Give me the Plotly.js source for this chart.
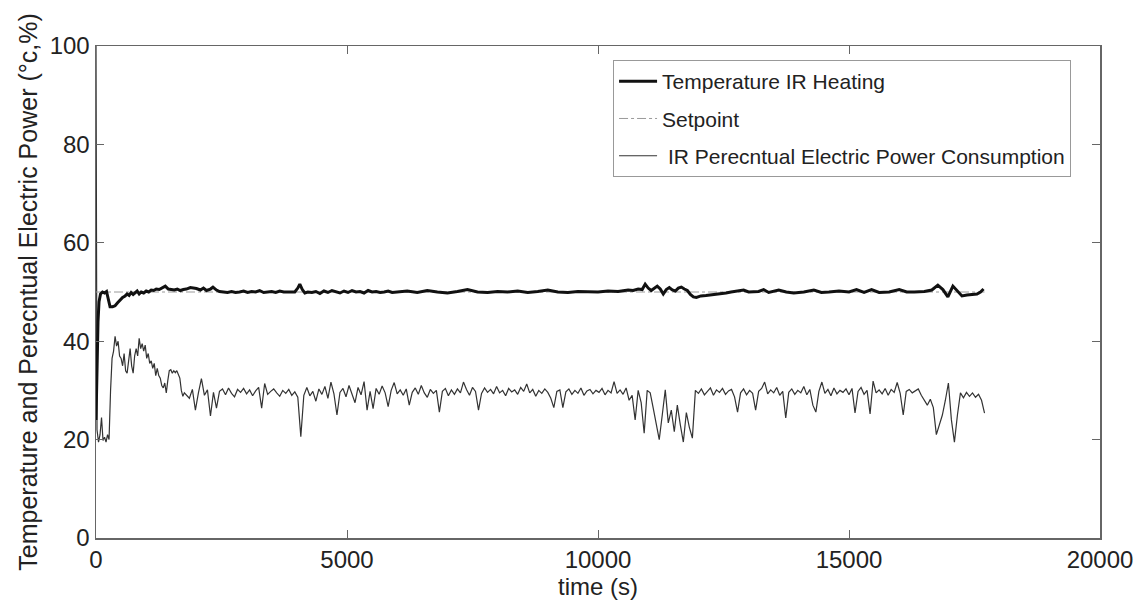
<!DOCTYPE html>
<html>
<head>
<meta charset="utf-8">
<script src="https://cdn.plot.ly/plotly-3.0.1.min.js"></script>
<style>html,body{margin:0;padding:0;background:#fff;}#chart{width:1138px;height:610px;}</style>
</head>
<body>
<div id="chart"></div>
<script>
// ---- Temperature IR Heating (time s, value °C) ----
const tempTime = [0,20,40,60,90,130,170,210,250,280,330,380,430,480,530,580,620,660,700,740,780,820,860,900,950,1000,1050,1100,1150,1200,1260,1320,1380,1440,1500,1560,1620,1680,1740,1800,1880,1940,2000,2080,2140,2200,2280,2330,2400,2460,2540,2620,2700,2780,2860,2940,3020,3100,3180,3260,3340,3420,3500,3580,3660,3740,3820,3900,3960,4020,4060,4110,4160,4220,4300,4380,4460,4540,4620,4700,4780,4860,4940,5020,5100,5180,5260,5340,5420,5500,5580,5660,5740,5820,5900,6000,6200,6400,6600,6800,7000,7200,7400,7600,7800,8000,8200,8400,8600,8800,9000,9200,9400,9600,9800,10000,10200,10400,10600,10700,10800,10880,10940,11000,11060,11120,11180,11240,11300,11360,11420,11480,11540,11600,11660,11720,11780,11840,11900,11960,12050,12150,12250,12350,12450,12550,12650,12750,12900,13000,13200,13300,13400,13600,13750,13900,14100,14300,14450,14600,14800,15000,15150,15300,15450,15600,15800,16000,16150,16300,16500,16650,16770,16870,16970,17070,17170,17250,17350,17450,17550,17620,17680];
const tempValue = [24,35,44,48,49.6,50,49.8,50.1,48.5,47,47,47.2,47.8,48.4,48.9,49.2,49.6,49.3,49.9,49.5,49.8,50.2,49.6,50.0,49.8,50.2,50.0,50.4,50.3,50.6,50.5,50.9,51.2,50.6,50.5,50.4,50.6,50.3,50.5,50.6,50.9,50.8,50.7,50.4,50.8,50.3,50.6,51.0,50.4,50.1,50.0,49.9,50.1,49.9,50.0,50.2,49.9,50.1,50.0,50.3,49.9,50.0,50.1,49.9,50.2,50.0,50.0,50.1,50.0,50.8,51.6,50.5,49.8,50.0,49.9,50.1,49.7,50.2,49.9,50.3,50.0,49.8,50.2,49.9,50.3,50.0,50.1,49.8,50.3,50.0,50.1,49.9,50.0,50.2,49.9,50.0,50.2,49.9,50.3,50.0,49.8,50.1,50.5,50.0,49.9,50.1,50.0,50.2,49.9,50.1,50.4,50.0,49.9,50.1,50.0,50.0,50.2,50.1,50.4,50.3,50.6,50.5,51.6,50.8,50.3,50.8,51.2,50.6,49.6,50.5,50.9,50.4,50.2,50.8,51.0,50.6,50.3,49.5,49.0,48.9,49.2,49.3,49.4,49.5,49.6,49.8,50.0,50.1,50.4,50.0,50.1,50.5,49.9,50.4,50.0,49.8,50.0,50.4,49.9,50.0,50.2,50.0,50.5,49.9,50.5,49.9,50.0,50.5,50.0,50.0,50.1,50.4,51.4,50.5,49.0,51.2,50.2,49.2,49.4,49.5,49.6,50.0,50.6];

// ---- Setpoint ----
const setpointTime = [0, 17700];
const setpointValue = [50, 50];

// ---- IR Percentual Electric Power Consumption ----
// start-up phase (explicit times)
const powerEarlyTime = [0,20,50,80,110,140,170,200,230,260,290,320,350,380,410,440,470,500,530,560,590,620,650,680,710,740,770,800,830,860,890,920,950,980,1010,1040,1070,1100,1130,1160,1190,1220,1250,1280,1310,1340,1370,1400,1430,1460,1490,1520,1550,1580,1610,1640,1670,1700,1730,1760];
const powerEarlyValue = [100,22,19.5,21,24.5,19.8,20.5,19.5,21,20,30,36.5,38,41,39,40,37,36.5,35,37.5,34,33.5,36,38.5,35,33.5,37,38.5,37,40.6,38.5,39.5,38,39.2,36.5,37.5,35.5,36,34.5,35.5,33,34.5,33,32.5,31,30.5,31.5,29.5,32,34,34.2,33.5,34,33.6,34,33,32.5,30,28.8,29.5];
// steady phase, sampled every 60 s from 1800 s
const powerStart = 1800;
const powerStep = 60;
const powerSteadyValue = [
29.0,28.4,30.2,26.0,29.5,32.4,29.0,30.1,24.8,29.6,
26.4,29.8,30.3,29.1,30.5,29.4,28.7,30.2,29.6,30.4,
29.3,30.1,28.9,29.9,30.6,26.4,31.4,29.2,29.8,30.3,
29.5,28.8,30.0,29.4,30.2,29.0,29.7,28.6,20.6,29.0,
30.6,28.9,29.8,27.8,30.3,29.2,30.8,28.4,31.7,29.3,
25.0,29.6,30.4,28.7,31.0,29.4,27.5,30.6,29.1,31.8,
26.0,29.8,26.3,30.4,29.2,30.9,29.5,26.7,30.0,31.6,
29.3,30.1,29.0,30.3,27.0,29.6,30.5,29.2,31.0,29.5,
28.6,30.2,29.4,30.0,25.6,29.8,30.4,28.9,30.1,29.2,
30.3,29.5,31.7,30.2,29.0,30.6,29.8,26.0,29.4,30.5,
29.6,30.2,29.3,30.8,29.5,30.0,28.9,30.4,29.7,30.1,
29.2,30.6,29.8,31.3,29.5,30.2,28.8,30.0,29.4,30.3,
29.6,28.4,26.5,29.8,30.1,26.5,29.7,30.3,29.2,30.0,
29.4,30.5,29.0,29.9,30.2,29.3,30.0,29.6,30.4,29.1,
30.0,29.5,31.8,29.4,30.1,29.2,30.5,28.0,29.0,24.0,
30.0,27.5,21.3,30.0,29.5,26.4,23.0,20.0,25.0,30.1,
23.4,26.0,21.6,27.0,23.0,19.5,25.5,22.5,20.3,30.0,
29.4,30.3,29.1,29.8,30.5,29.0,30.1,29.6,30.4,29.2,
29.9,30.2,28.7,25.6,29.5,30.3,29.1,30.0,29.4,26.0,
29.8,30.4,31.7,29.3,30.1,29.5,30.6,29.0,29.8,24.4,
29.6,30.3,29.2,30.0,29.5,30.8,29.1,30.2,27.0,25.6,
29.8,31.7,29.4,30.2,28.9,30.5,29.3,30.0,29.6,30.3,
29.1,30.4,25.4,29.8,30.6,29.2,30.0,25.2,31.9,29.5,
30.1,29.3,30.4,29.0,30.2,29.6,31.6,29.4,25.0,29.8,
30.2,29.5,29.9,30.3,29.0,28.0,27.0,28.2,26.5,21.0,
23.0,25.0,28.0,31.5,24.0,19.5,25.0,29.5,28.5,29.6,
28.8,29.5,28.6,29.2,28.0,25.4];

const powerTime = powerEarlyTime.concat(powerSteadyValue.map((v, i) => powerStart + i * powerStep));
const powerValue = powerEarlyValue.concat(powerSteadyValue);

const xTicks = [0, 5000, 10000, 15000, 20000];
const yTicks = [0, 20, 40, 60, 80, 100];

const FONT = '"Liberation Sans", Arial, Helvetica, sans-serif';

const traces = [
  {x: powerTime, y: powerValue, type: 'scatter', mode: 'lines', name: ' IR Perecntual Electric Power Consumption',
   line: {color: '#333', width: 1.2}, legendgroup: 'c', legendrank: 3},
  {x: setpointTime, y: setpointValue, type: 'scatter', mode: 'lines', name: 'Setpoint',
   line: {color: '#9a9a9a', width: 1, dash: 'dashdot'}, legendgroup: 'b', legendrank: 2},
  {x: tempTime, y: tempValue, type: 'scatter', mode: 'lines', name: 'Temperature IR Heating',
   line: {color: '#111', width: 3}, legendgroup: 'a', legendrank: 1}
];

const axisCommon = {
  showgrid: false, zeroline: false, showline: true, linecolor: '#666', linewidth: 1.5,
  mirror: 'ticks', ticks: 'inside', ticklen: 8, tickcolor: '#666', tickwidth: 1,
  tickfont: {family: FONT, size: 24, color: '#222'}
};

const layout = {
  width: 1138, height: 610,
  margin: {l: 96, r: 38, t: 46, b: 72},
  paper_bgcolor: '#fff', plot_bgcolor: '#fff',
  font: {family: FONT, color: '#222'},
  showlegend: true,
  xaxis: Object.assign({}, axisCommon, {
    range: [0, 20000], tickvals: xTicks, ticktext: xTicks.map(String),
    title: {text: 'time (s)', font: {family: FONT, size: 24, color: '#222'}, standoff: 0}
  }),
  yaxis: Object.assign({}, axisCommon, {
    range: [0, 100], tickvals: yTicks, ticktext: yTicks.map(String),
    title: {text: 'Temperature and Perecntual Electric Power (°c,%)', font: {family: FONT, size: 25, color: '#222'}, standoff: 5}
  }),
  legend: {
    x: 0.515, y: 0.9715, xanchor: 'left', yanchor: 'top',
    bgcolor: '#fff', bordercolor: '#999', borderwidth: 1,
    font: {family: FONT, size: 21, color: '#222'},
    traceorder: 'grouped', tracegroupgap: 7, itemwidth: 38
  }
};

Plotly.newPlot('chart', traces, layout, {displayModeBar: false, staticPlot: true});
</script>
</body>
</html>
